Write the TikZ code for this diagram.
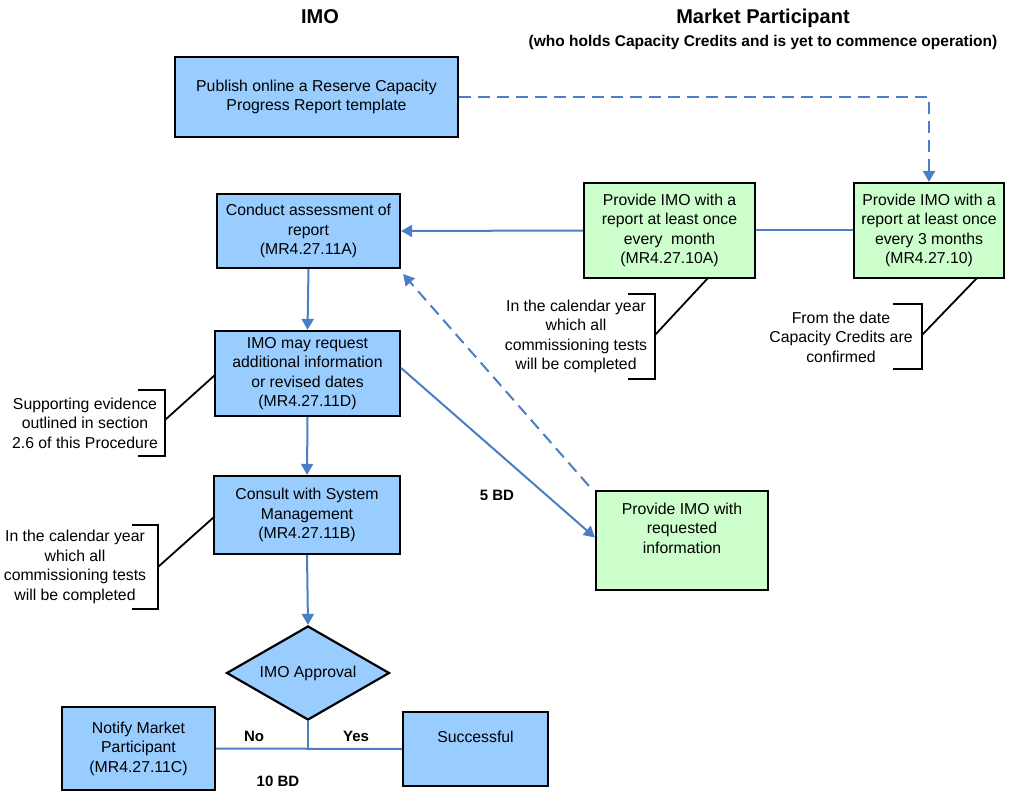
\documentclass[tikz,border=0pt]{standalone}
\usepackage{fontspec}
\setmainfont{Liberation Sans}
\usetikzlibrary{arrows.meta,shapes.geometric}
\definecolor{boxblue}{HTML}{99CCFF}
\definecolor{boxgreen}{HTML}{CCFFCC}
\definecolor{connblue}{HTML}{4A7EC5}
\begin{document}
\begin{tikzpicture}[x=1pt,y=-1pt,
 every node/.style={font=\fontsize{15.8}{19.5}\selectfont, align=center, inner sep=0pt},
 bbox/.style={draw=black, line width=2.2pt, fill=boxblue},
 gbox/.style={draw=black, line width=2.2pt, fill=boxgreen},
 conn/.style={draw=connblue, line width=2pt},
 arr/.style={conn, -{Triangle[width=12pt,length=11pt]}},
 dconn/.style={conn, dash pattern=on 12pt off 7pt},
 ann/.style={line width=1.8pt, draw=black},
 lbl/.style={font=\fontsize{15}{18}\selectfont\bfseries},
 ttl/.style={font=\fontsize{20}{24}\selectfont\bfseries}
]
\useasboundingbox (0,0) rectangle (1011,794);

% titles
\node[ttl] (tImo) at (320,17) {IMO};
\node[ttl] (tMp) at (763,18) {Market Participant};
\node[font=\fontsize{15.5}{18}\selectfont\bfseries] (tSub) at (763,42) {(who holds Capacity Credits and is yet to commence operation)};

% boxes
\node[bbox, minimum width=283, minimum height=80] (publish) at (316.5,97) {Publish online a Reserve Capacity\\Progress Report template};
\node[bbox, minimum width=183, minimum height=74] (conduct) at (308.5,231) {Conduct assessment of\\report\\(MR4.27.11A)};
\node[bbox, minimum width=185, minimum height=85] (request) at (307.5,373.5) {IMO may request\\additional information\\or revised dates\\(MR4.27.11D)};
\node[bbox, minimum width=186, minimum height=78] (consult) at (307,515) {Consult with System\\Management\\(MR4.27.11B)};
\node[bbox, diamond, minimum width=163, minimum height=94, shape aspect=1.74] (approval) at (308,673) {IMO Approval};
\node[bbox, minimum width=153, minimum height=83] (notify) at (138.5,748.5) {Notify Market\\Participant\\(MR4.27.11C)};
\node[bbox, minimum width=145, minimum height=74] (success) at (475.5,749) {Successful\\\strut};
\node[gbox, minimum width=171, minimum height=95] (m1) at (669.5,230.5) {Provide IMO with a\\report at least once\\every~~month\\(MR4.27.10A)};
\node[gbox, minimum width=150, minimum height=95] (m3) at (929,230.5) {Provide IMO with a\\report at least once\\every 3 months\\(MR4.27.10)};
\node[gbox, minimum width=172, minimum height=99] (reqinfo) at (682,540.5) {Provide IMO with\\requested\\information\\\strut};

% connectors
\draw[dconn, -{Triangle[width=12pt,length=11pt]}] (publish.east) -| (m3.north);
\draw[conn] (m3.west) -- (m1.east);
\draw[arr] (m1.west) -- (conduct.east);
\draw[arr] (conduct.south) -- (request.north);
\draw[arr] (request.south) -- (consult.north);
\draw[arr] (consult.south) -- (approval.north);
\draw[arr] ([yshift=5.5pt]request.east) -- ([yshift=3pt]reqinfo.west);
\draw[dconn, -{Triangle[width=12pt,length=11pt]}] ([xshift=-6pt,yshift=4pt]reqinfo.north west) -- ([xshift=2pt,yshift=-5pt]conduct.south east);
\draw[conn] (notify.east) -- (success.west);
\draw[conn] (approval.south) -- (approval.south |- notify.east);

% connector labels
\node[lbl] (lNo) at (254,736) {No};
\node[lbl] (lYes) at (356,736) {Yes};
\node[lbl] (l10) at (278,781) {10 BD};
\node[lbl] (l5) at (497,495) {5 BD};

% annotations
\node (a1) at (576,336.5) {In the calendar year\\which all\\commissioning tests\\will be completed};
\draw[ann] (628,294) -- (655,294) -- (655,379) -- (628,379);
\coordinate (a1b) at (655,335);
\coordinate (a1e) at (708,278);
\draw[ann] (a1b) -- (a1e);

\node (a2) at (841,337) {From the date\\Capacity Credits are\\confirmed};
\draw[ann] (893,304) -- (922,304) -- (922,369) -- (893,369);
\coordinate (a2b) at (922,335);
\coordinate (a2e) at (977,278);
\draw[ann] (a2b) -- (a2e);

\node (a3) at (85,423) {Supporting evidence\\outlined in section\\2.6 of this Procedure};
\draw[ann] (138,390) -- (165,390) -- (165,456) -- (138,456);
\coordinate (a3b) at (165,420);
\coordinate (a3e) at (215,375);
\draw[ann] (a3b) -- (a3e);

\node (a4) at (75,567) {In the calendar year\\which all\\commissioning tests\\will be completed};
\draw[ann] (132,525) -- (158,525) -- (158,609) -- (132,609);
\coordinate (a4b) at (158,567);
\coordinate (a4e) at (214,517);
\draw[ann] (a4b) -- (a4e);
\end{tikzpicture}
\end{document}
